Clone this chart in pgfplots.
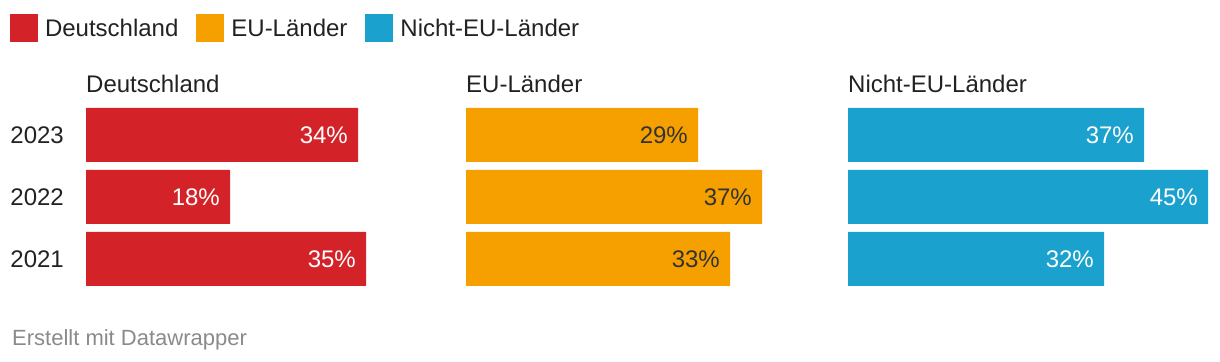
\documentclass[border=0pt]{standalone}
\usepackage{fontspec}
\setmainfont{Liberation Sans}
\usepackage{pgfplots}
\pgfplotsset{compat=1.18}
\definecolor{dred}{HTML}{D32329}
\definecolor{dorange}{HTML}{F6A000}
\definecolor{dblue}{HTML}{1BA1CD}
\definecolor{dtext}{HTML}{222222}
\definecolor{dlabel}{HTML}{333333}
\definecolor{dgray}{HTML}{8A8A8A}
\newcommand{\fs}{\fontsize{24bp}{28bp}\selectfont}

\pgfplotsset{panel/.style={
  xbar, bar shift=0pt, scale only axis, width=360bp, height=186bp,
  xmin=0, xmax=45, ymin=-0.5, ymax=2.5,
  enlargelimits=false,
  bar width=54bp, axis line style={draw=none}, xtick=\empty, ytick=\empty,
  major tick length=0pt,
  point meta=x,
  nodes near coords={\pgfmathprintnumber[assume math mode=true]{\pgfplotspointmeta}\%},
  nodes near coords style={anchor=east, xshift=-10bp, inner sep=0pt, font=\fs},
  title style={at={(0,1)}, anchor=base west, yshift=6bp, inner sep=0pt, font=\fs, text=dtext},
  clip=false,
  anchor=south west,
}}

\begin{document}
\begin{tikzpicture}
\useasboundingbox (0,0) rectangle (1220bp,362bp);

\begin{axis}[panel, at={(86bp,72bp)}, title={Deutschland},
  ytick={0,1,2}, yticklabels={2021,2022,2023},
  yticklabel style={anchor=east, inner sep=0pt, xshift=-22bp, font=\fs, text=dtext},
  nodes near coords style={text=white},
  legend columns=3,
  legend style={at={(axis description cs:-0.21111,1.48387)}, anchor=north west,
    draw=none, fill=none, inner sep=0pt, outer sep=0pt, font=\fs, text=dtext,
    nodes={inner sep=0pt},
    /tikz/every odd column/.append style={column sep=7bp},
    /tikz/every even column/.append style={column sep=18bp}},
  legend image code/.code={\path[#1,draw=none] (0bp,-13bp) rectangle (28bp,15bp);},
]
\addlegendimage{fill=dred, draw=none}
\addlegendimage{fill=dorange, draw=none}
\addlegendimage{fill=dblue, draw=none}
\addplot[fill=dred, draw=none, forget plot] coordinates {(35,0) (18,1) (34,2)};
\legend{Deutschland, EU-Länder, Nicht-EU-Länder}
\end{axis}

\begin{axis}[panel, at={(466bp,72bp)}, title={EU-Länder},
  nodes near coords style={text=dlabel}]
\addplot[fill=dorange, draw=none] coordinates {(33,0) (37,1) (29,2)};
\end{axis}

\begin{axis}[panel, at={(848bp,72bp)}, title={Nicht-EU-Länder},
  nodes near coords style={text=white}]
\addplot[fill=dblue, draw=none] coordinates {(32,0) (45,1) (37,2)};
\end{axis}

\node[anchor=base west, inner sep=0pt, font=\fontsize{22bp}{26bp}\selectfont, text=dgray] at (12bp,17bp) {Erstellt mit Datawrapper};
\end{tikzpicture}
\end{document}
